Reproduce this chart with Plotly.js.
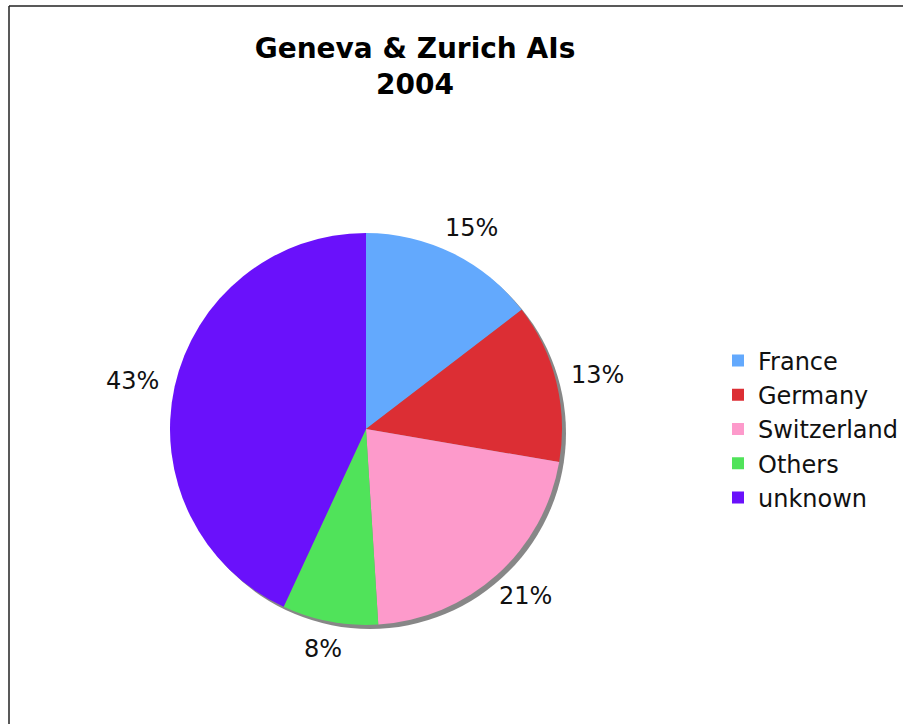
<!DOCTYPE html>
<html>
<head>
<meta charset="utf-8">
<script src="https://cdn.plot.ly/plotly-3.0.1.min.js"></script>
<style>html,body{margin:0;padding:0;background:#fff;}#chart{width:903px;height:724px;}</style>
</head>
<body>
<div id="chart"></div>
<script>
const categories = ['France', 'Germany', 'Switzerland', 'Others', 'unknown'];
const values = [14.6, 13.1, 21.3, 7.9, 43.1];
const colors = ['#63a9fd', '#dc2e34', '#fd9acb', '#50e35a', '#6a11fb'];
const titleText = 'Geneva & Zurich AIs<br>2004';

const W = 903, H = 724;
const cx = 366, cy = 429, R = 196, shadow = 4, labelGap = 16, labelSize = 24;
const px = x => x / W;
const py = y => 1 - y / H;

const mainPie = {
  type: 'pie',
  labels: categories,
  values: values,
  sort: false,
  direction: 'clockwise',
  rotation: 0,
  marker: {colors: colors, line: {width: 0}},
  textinfo: 'none',
  hoverinfo: 'label+percent',
  domain: {x: [px(cx - R), px(cx + R)], y: [py(cy + R), py(cy - R)]}
};

const shadowPie = {
  type: 'pie',
  labels: ['shadow'],
  values: [1],
  sort: false,
  marker: {colors: ['#878787'], line: {width: 0}},
  textinfo: 'none',
  hoverinfo: 'skip',
  showlegend: false,
  domain: {x: [px(cx - R + shadow), px(cx + R + shadow)], y: [py(cy + R + shadow), py(cy - R + shadow)]}
};

// percentage labels placed just outside each slice, from the data
const total = values.reduce((a, b) => a + b, 0);
let cum = 0;
const annotations = values.map(v => {
  const mid = (cum + v / 2) / total * 2 * Math.PI;
  cum += v;
  const txt = Math.round(v / total * 100) + '%';
  const dx = Math.sin(mid), dy = -Math.cos(mid);
  const hw = ((txt.length - 1) * 0.636 + 0.95) * labelSize / 2;
  const hh = labelSize * 0.5;
  return {
    text: txt,
    x: px(cx + (R + labelGap) * dx + dx * hw),
    y: py(cy + (R + labelGap) * dy + dy * hh),
    xref: 'paper', yref: 'paper',
    xanchor: 'center', yanchor: 'middle',
    showarrow: false,
    font: {family: 'DejaVu Sans, Verdana, sans-serif', size: labelSize, color: '#111'}
  };
});

const layout = {
  width: W, height: H,
  margin: {l: 0, r: 0, t: 0, b: 0},
  paper_bgcolor: '#ffffff',
  title: {
    text: titleText,
    font: {family: 'DejaVu Sans, Verdana, sans-serif', size: 28, color: '#000', weight: 'bold'},
    x: px(415), xanchor: 'center', xref: 'container',
    y: 1 - 58 / H, yanchor: 'top', yref: 'container'
  },
  showlegend: true,
  legend: {
    x: px(718), xanchor: 'left',
    y: py(429), yanchor: 'middle',
    font: {family: 'DejaVu Sans, Verdana, sans-serif', size: 24, color: '#111'},
    bgcolor: 'rgba(0,0,0,0)'
  },
  annotations: annotations,
  shapes: [
    {type: 'line', xref: 'paper', yref: 'paper', x0: px(9), x1: px(9), y0: 0, y1: py(6), line: {color: '#222', width: 1.5}},
    {type: 'line', xref: 'paper', yref: 'paper', x0: px(9), x1: 1, y0: py(6), y1: py(6), line: {color: '#222', width: 1.5}}
  ]
};

Plotly.newPlot('chart', [shadowPie, mainPie], layout, {displayModeBar: false, staticPlot: true});
</script>
</body>
</html>
